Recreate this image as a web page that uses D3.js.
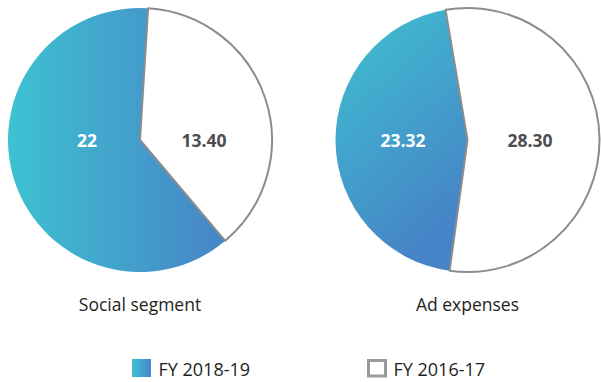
<!DOCTYPE html>
<html>
<head>
<meta charset="utf-8">
<script src="https://cdn.jsdelivr.net/npm/d3@7/dist/d3.min.js"></script>
<style>
  html, body { margin: 0; padding: 0; background: #fff; }
  svg { display: block; font-family: "Open Sans", "Noto Sans", sans-serif; }
</style>
</head>
<body>
<svg id="chart" width="601" height="382"></svg>
<script>
// Segment names and values per fiscal year
const segments = ["Social segment", "Ad expenses"];
const fy2018_19 = [22, 23.32];
const fy2016_17 = [13.40, 28.30];
const seriesNames = ["FY 2018-19", "FY 2016-17"];

const W = 601, H = 382;
const svg = d3.select("#chart");
const defs = svg.append("defs");

// Pie layout settings (start angle of the FY 2018-19 slice, in degrees)
const pieCfg = [
  { cx: 140, cy: 140, r: 132, start: 139.8, grad: { x1: 0, y1: 0, x2: 1, y2: 0 } },
  { cx: 467.5, cy: 140, r: 132, start: 187.8, grad: { x1: 0, y1: 0, x2: 0.45, y2: 1 } }
];

const cyan = "#3ec2d1", blue = "#4684c7";
const outline = "#8c8c8c";

function makeGrad(id, g) {
  const lg = defs.append("linearGradient").attr("id", id)
    .attr("x1", g.x1).attr("y1", g.y1).attr("x2", g.x2).attr("y2", g.y2);
  lg.append("stop").attr("offset", "0%").attr("stop-color", cyan);
  lg.append("stop").attr("offset", "100%").attr("stop-color", blue);
}

const fmt = v => Number.isInteger(v) ? String(v) : v.toFixed(2);

segments.forEach((name, i) => {
  const cfg = pieCfg[i];
  makeGrad("grad" + i, cfg.grad);
  const data = [
    { key: seriesNames[0], value: fy2018_19[i] },
    { key: seriesNames[1], value: fy2016_17[i] }
  ];
  const start = cfg.start * Math.PI / 180;
  const pie = d3.pie().sort(null).value(d => d.value)
    .startAngle(start).endAngle(start + 2 * Math.PI);
  const arcs = pie(data);
  const arc = d3.arc().innerRadius(0).outerRadius(cfg.r);

  const g = svg.append("g").attr("transform", `translate(${cfg.cx},${cfg.cy})`);
  g.selectAll("path").data(arcs).join("path")
    .attr("d", arc)
    .attr("fill", (d, j) => j === 0 ? `url(#grad${i})` : "#fff")
    .attr("stroke", (d, j) => j === 0 ? "none" : outline)
    .attr("stroke-width", 2)
    .attr("stroke-linejoin", "round");

  // Value labels sit on the horizontal through the centre
  const offsets = i === 0 ? [-53, 64] : [-64.5, 62.5];
  g.selectAll("text.val").data(arcs).join("text")
    .attr("class", "val")
    .attr("x", (d, j) => offsets[j])
    .attr("y", 6.5)
    .attr("text-anchor", "middle")
    .attr("font-size", 17.5)
    .attr("font-weight", 700)
    .attr("fill", (d, j) => j === 0 ? "#ffffff" : "#4d4d4f")
    .text(d => fmt(d.data.value));

  svg.append("text")
    .attr("x", cfg.cx)
    .attr("y", 311)
    .attr("text-anchor", "middle")
    .attr("font-size", 17.5)
    .attr("fill", "#231f20")
    .text(name);
});

// Legend
makeGrad("gradLegend", { x1: 0, y1: 0, x2: 1, y2: 0 });
const legend = [
  { name: seriesNames[0], x: 132 },
  { name: seriesNames[1], x: 367 }
];
legend.forEach((l, j) => {
  if (j === 0) {
    svg.append("rect").attr("x", l.x).attr("y", 359).attr("width", 19).attr("height", 18)
      .attr("fill", "url(#gradLegend)");
  } else {
    svg.append("rect").attr("x", l.x + 1.5).attr("y", 360.5).attr("width", 17).attr("height", 15.5)
      .attr("fill", "#fff").attr("stroke", "#999999").attr("stroke-width", 3);
  }
  svg.append("text")
    .attr("x", l.x + 26.5)
    .attr("y", 375.5)
    .attr("font-size", 18)
    .attr("fill", "#231f20")
    .text(l.name);
});
</script>
</body>
</html>
